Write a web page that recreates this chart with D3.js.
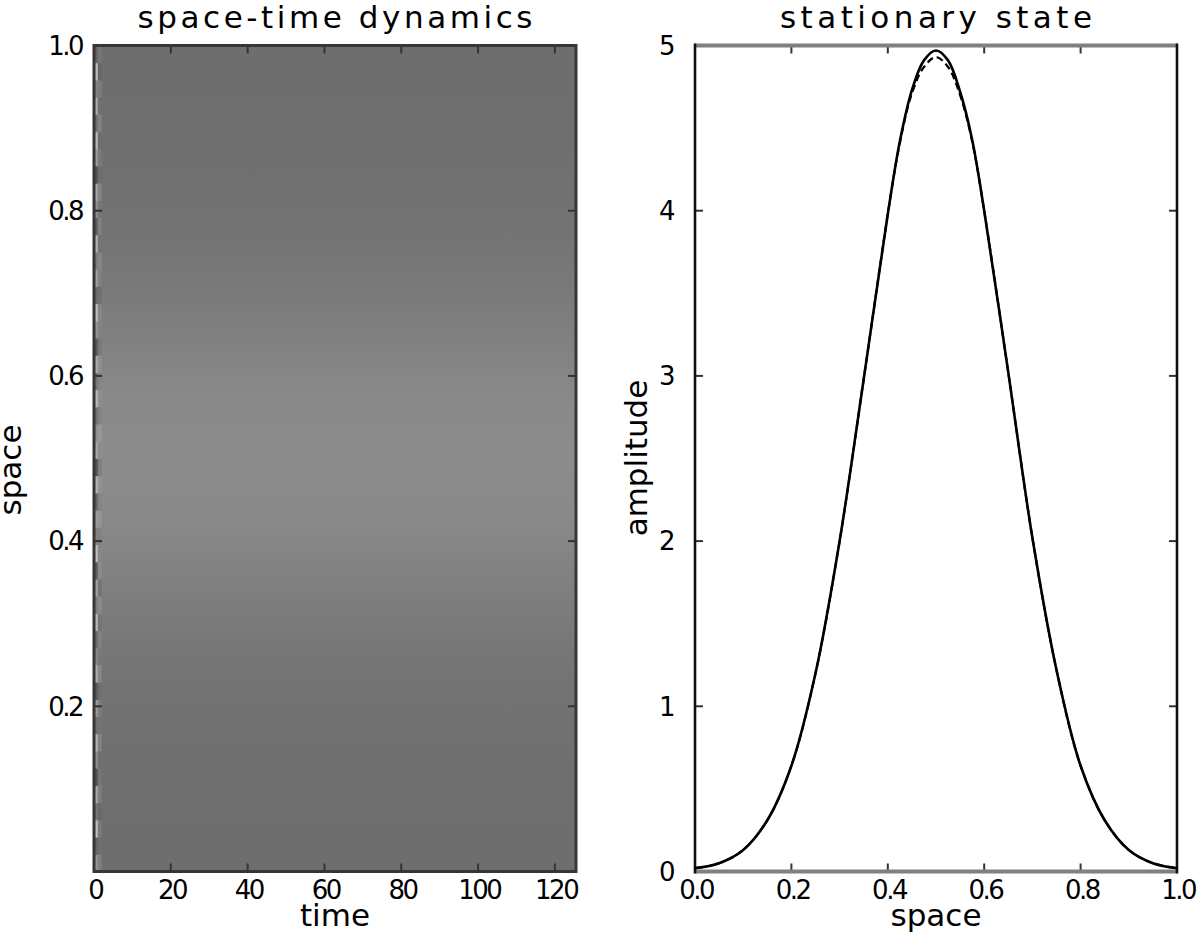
<!DOCTYPE html>
<html>
<head>
<meta charset="utf-8">
<script src="https://cdn.jsdelivr.net/npm/d3@7"></script>
<style>
  html, body { margin: 0; padding: 0; background: #fff; }
  svg { display: block; font-family: "DejaVu Sans", sans-serif; }
</style>
</head>
<body>
<svg id="chart" width="1200" height="943"></svg>
<script>
// space samples and stationary amplitude
var spaceGrid = [0, 0.05, 0.1, 0.15, 0.2, 0.25, 0.3, 0.35, 0.4, 0.425, 0.45, 0.475, 0.5,
                 0.525, 0.55, 0.575, 0.6, 0.65, 0.7, 0.75, 0.8, 0.85, 0.9, 0.95, 1.0];
var ampSolid  = [0.02, 0.05, 0.13, 0.31, 0.64, 1.20, 2.00, 2.98, 3.98, 4.42, 4.73, 4.91, 4.97,
                 4.91, 4.72, 4.43, 4.00, 3.02, 2.02, 1.22, 0.64, 0.31, 0.13, 0.05, 0.02];
var ampDashed = [0.02, 0.05, 0.13, 0.31, 0.64, 1.20, 2.00, 2.98, 3.98, 4.41, 4.71, 4.87, 4.93,
                 4.87, 4.70, 4.42, 4.00, 3.02, 2.02, 1.22, 0.64, 0.31, 0.13, 0.05, 0.02];

// first time step of the heatmap: noisy initial condition (bottom to top)
var initNoise = [0.2, -0.6, 0.9, -0.3, 0.5, -0.9, 0.1, 0.7, -0.4, 0.3, -0.8, 0.6, 0.0, -0.5,
                 0.8, -0.2, 0.4, -0.7, 0.9, -0.1, 0.3, -0.6, 0.7, -0.9, 0.5, 0.1, -0.4, 0.8,
                 -0.3, 0.6, -0.8, 0.2, 0.9, -0.5, 0.4, -0.2, 0.7, -0.7, 0.1, 0.5, -0.9, 0.3,
                 0.8, -0.4, 0.6, -0.1, 0.9, -0.6];

var timeTicks = [0, 20, 40, 60, 80, 100, 120];
var spaceTicksL = [0.2, 0.4, 0.6, 0.8, 1.0];
var spaceTicksR = [0.0, 0.2, 0.4, 0.6, 0.8, 1.0];
var ampTicks = [0, 1, 2, 3, 4, 5];

var svg = d3.select('#chart');
var yTop = 45.5, yBot = 871.5;
var L = {x0: 94, x1: 576};
var R = {x0: 695, x1: 1177};
var tickLen = 8;
var tickFont = 26, tickSpacing = -2.5;
var xTickBase = 899;
var xLabelBase = 926;

// ---------- left panel: space-time dynamics ----------
var tx = d3.scaleLinear().domain([0, 125.5]).range([L.x0, L.x1]);
var sy = d3.scaleLinear().domain([0, 1]).range([yBot, yTop]);
var gray = d3.scaleLinear().domain([0, 5]).range(['#6e6e6e', '#8c8c8c']);
var noiseGray = d3.scaleLinear().domain([-1, 1]).range(['#4e4e4e', '#c4c4c4']);

var grad = svg.append('defs').append('linearGradient')
    .attr('id', 'heat')
    .attr('x1', 0).attr('y1', 1).attr('x2', 0).attr('y2', 0);
grad.selectAll('stop').data(spaceGrid).enter().append('stop')
    .attr('offset', d => d)
    .attr('stop-color', (d, i) => gray(ampSolid[i]));

svg.append('rect')
    .attr('x', tx(0)).attr('y', sy(1))
    .attr('width', tx(125.5) - tx(0)).attr('height', sy(0) - sy(1))
    .attr('fill', 'url(#heat)');

var cellH = 1 / initNoise.length;
svg.append('g').selectAll('rect').data(initNoise).enter().append('rect')
    .attr('x', tx(0))
    .attr('y', (d, i) => sy((i + 1) * cellH))
    .attr('width', tx(1) - tx(0))
    .attr('height', sy(0) - sy(cellH) + 0.5)
    .attr('fill', d => noiseGray(d));
svg.append('g').selectAll('rect').data(initNoise).enter().append('rect')
    .attr('x', tx(1))
    .attr('y', (d, i) => sy((i + 1) * cellH))
    .attr('width', tx(2) - tx(1))
    .attr('height', sy(0) - sy(cellH) + 0.5)
    .attr('fill', (d, i) => noiseGray(initNoise[(i + 7) % initNoise.length]))
    .attr('opacity', 0.25);

// frame + ticks, left
var lf = svg.append('g');
timeTicks.forEach(function (t) {
    lf.append('line').attr('x1', tx(t)).attr('x2', tx(t)).attr('y1', yBot).attr('y2', yBot - tickLen)
        .attr('stroke', '#333').attr('stroke-width', 2);
    lf.append('line').attr('x1', tx(t)).attr('x2', tx(t)).attr('y1', yTop).attr('y2', yTop + tickLen)
        .attr('stroke', '#333').attr('stroke-width', 2);
});
spaceTicksL.forEach(function (s) {
    lf.append('line').attr('x1', L.x0).attr('x2', L.x0 + tickLen).attr('y1', sy(s)).attr('y2', sy(s))
        .attr('stroke', '#333').attr('stroke-width', 2);
    lf.append('line').attr('x1', L.x1).attr('x2', L.x1 - tickLen).attr('y1', sy(s)).attr('y2', sy(s))
        .attr('stroke', '#333').attr('stroke-width', 2);
});
lf.append('rect').attr('x', L.x0).attr('y', yTop).attr('width', L.x1 - L.x0).attr('height', yBot - yTop)
    .attr('fill', 'none').attr('stroke', '#363636').attr('stroke-width', 3);

var lt = svg.append('g').attr('font-size', tickFont).attr('letter-spacing', tickSpacing).attr('fill', '#000');
lt.selectAll(null).data(timeTicks).enter().append('text')
    .attr('x', d => tx(d) - tickSpacing / 2).attr('y', xTickBase).attr('text-anchor', 'middle').text(d => d);
lt.selectAll(null).data(spaceTicksL).enter().append('text')
    .attr('x', L.x0 - 12).attr('y', d => sy(d)).attr('dy', '0.36em').attr('text-anchor', 'end')
    .text(d => d3.format('.1f')(d));

svg.append('text').attr('x', (L.x0 + L.x1) / 2).attr('y', 28).attr('text-anchor', 'middle')
    .attr('font-size', 31).attr('textLength', 395).attr('lengthAdjust', 'spacing')
    .text('space-time dynamics');
svg.append('text').attr('x', (L.x0 + L.x1) / 2).attr('y', xLabelBase).attr('text-anchor', 'middle')
    .attr('font-size', 31).text('time');
svg.append('text').attr('transform', 'translate(21,470) rotate(-90)').attr('text-anchor', 'middle')
    .attr('font-size', 31).text('space');

// ---------- right panel: stationary state ----------
var xs = d3.scaleLinear().domain([0, 1]).range([R.x0, R.x1]);
var ay = d3.scaleLinear().domain([0, 5]).range([yBot, yTop]);

var line = d3.line().curve(d3.curveCatmullRom)
    .x((d, i) => xs(spaceGrid[i])).y(d => ay(d));

var rf = svg.append('g');
spaceTicksR.forEach(function (s) {
    rf.append('line').attr('x1', xs(s)).attr('x2', xs(s)).attr('y1', yBot).attr('y2', yBot - tickLen)
        .attr('stroke', '#333').attr('stroke-width', 2);
    rf.append('line').attr('x1', xs(s)).attr('x2', xs(s)).attr('y1', yTop).attr('y2', yTop + tickLen)
        .attr('stroke', '#333').attr('stroke-width', 2);
});
ampTicks.forEach(function (a) {
    rf.append('line').attr('x1', R.x0).attr('x2', R.x0 + tickLen).attr('y1', ay(a)).attr('y2', ay(a))
        .attr('stroke', '#333').attr('stroke-width', 2);
    rf.append('line').attr('x1', R.x1).attr('x2', R.x1 - tickLen).attr('y1', ay(a)).attr('y2', ay(a))
        .attr('stroke', '#333').attr('stroke-width', 2);
});

svg.append('path').datum(ampSolid).attr('d', line)
    .attr('fill', 'none').attr('stroke', '#000').attr('stroke-width', 2.6);
svg.append('path').datum(ampDashed).attr('d', line)
    .attr('fill', 'none').attr('stroke', '#000').attr('stroke-width', 2.2)
    .attr('stroke-dasharray', '7,4');

// spines: horizontal ones render grey and wide, vertical ones dark
[yTop, yBot].forEach(function (y) {
    rf.append('line').attr('x1', R.x0).attr('x2', R.x1).attr('y1', y).attr('y2', y)
        .attr('stroke', '#808080').attr('stroke-width', 4);
});
[R.x0, R.x1].forEach(function (x) {
    rf.append('line').attr('x1', x).attr('x2', x).attr('y1', yTop - 2).attr('y2', yBot + 2)
        .attr('stroke', '#111').attr('stroke-width', 2.6);
});

var rt = svg.append('g').attr('font-size', tickFont).attr('letter-spacing', tickSpacing).attr('fill', '#000');
rt.selectAll(null).data(spaceTicksR).enter().append('text')
    .attr('x', d => xs(d) - tickSpacing / 2).attr('y', xTickBase).attr('text-anchor', 'middle')
    .text(d => d3.format('.1f')(d));
rt.selectAll(null).data(ampTicks).enter().append('text')
    .attr('x', R.x0 - 22).attr('y', d => ay(d)).attr('dy', '0.36em').attr('text-anchor', 'end')
    .text(d => d);

svg.append('text').attr('x', (R.x0 + R.x1) / 2).attr('y', 28).attr('text-anchor', 'middle')
    .attr('font-size', 31).attr('textLength', 312).attr('lengthAdjust', 'spacing')
    .text('stationary state');
svg.append('text').attr('x', (R.x0 + R.x1) / 2).attr('y', xLabelBase).attr('text-anchor', 'middle')
    .attr('font-size', 31).text('space');
svg.append('text').attr('transform', 'translate(647,458) rotate(-90)').attr('text-anchor', 'middle')
    .attr('font-size', 31).text('amplitude');
</script>
</body>
</html>
